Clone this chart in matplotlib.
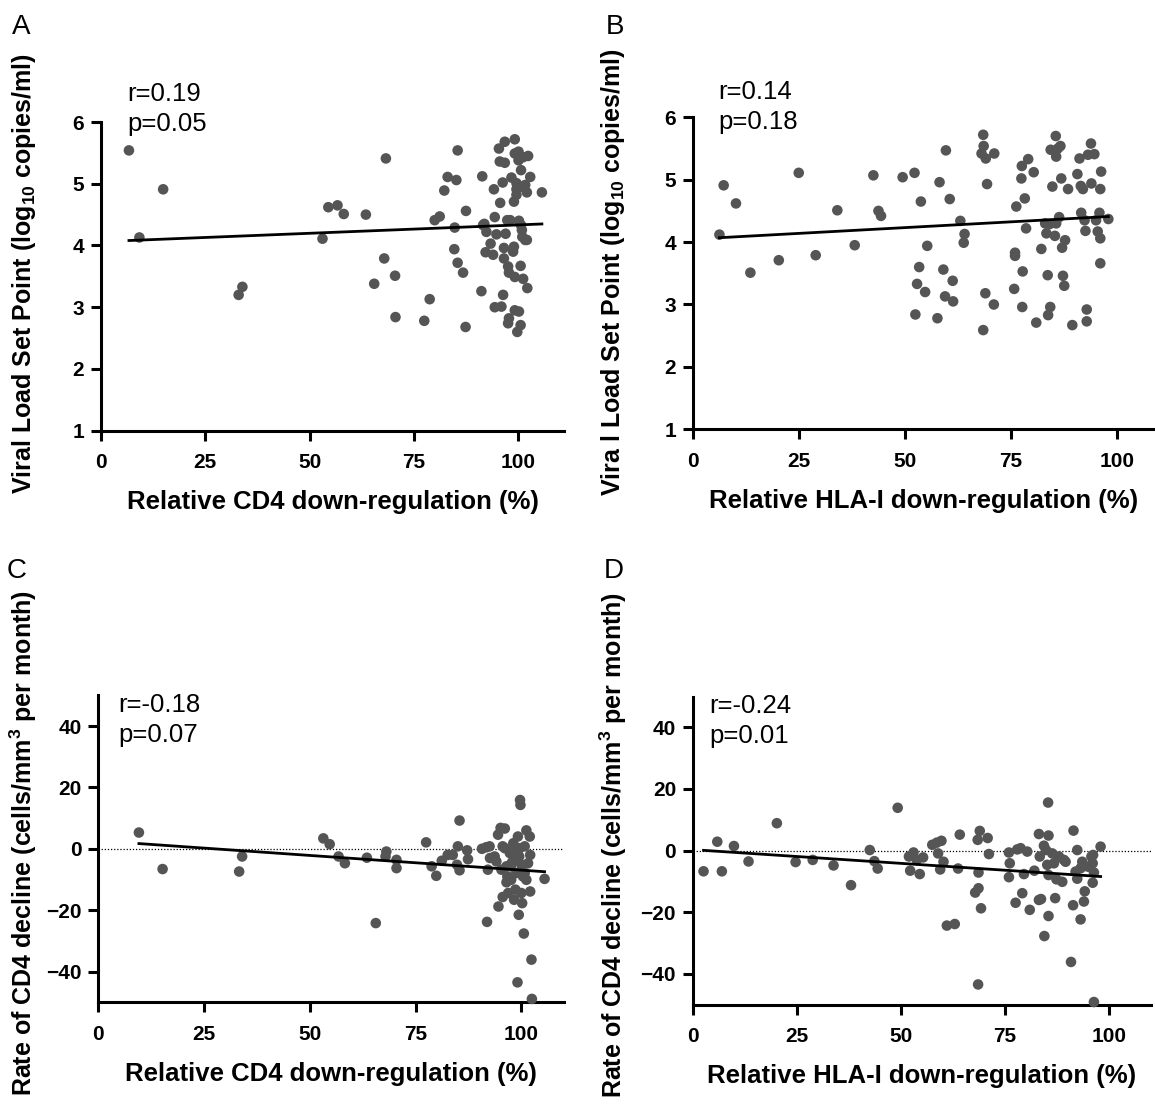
import numpy as np
import matplotlib
matplotlib.use('Agg')
import matplotlib.pyplot as plt

plt.rcParams['font.family'] = ['Liberation Sans', 'DejaVu Sans']
plt.rcParams['mathtext.fontset'] = 'custom'
plt.rcParams['mathtext.rm'] = 'Liberation Sans:bold'
plt.rcParams['mathtext.default'] = 'rm'

# A: CD4 down-regulation vs viral load set point
cd4_vl_x = [6.7, 9.2, 14.9, 33.0, 33.9, 53.1, 54.5, 56.7, 58.2, 63.5, 68.3, 67.9, 65.5, 70.5, 70.6,
            77.5, 78.8, 80.0, 81.2, 82.3, 83.1, 85.2, 85.5, 84.8, 84.7, 85.5, 86.8, 87.5, 87.4, 91.4,
            91.2, 91.6, 92.4, 92.2, 93.4, 94.0, 94.2, 94.4, 94.4, 95.4, 95.7, 95.6, 96.3, 96.4, 96.0,
            96.8, 96.8, 96.6, 97.0, 94.8, 96.6, 97.6, 97.8, 97.8, 97.6, 98.1, 98.4, 99.2, 99.0, 99.0,
            99.2, 99.2, 99.8, 99.2, 100.1, 100.1, 100.7, 99.6, 99.6, 100.9, 101.7, 100.2, 100.7, 101.0,
            101.7, 100.6, 100.2, 100.6, 101.2, 102.2, 102.1, 102.9, 102.4, 101.2, 105.7, 100.9, 97.4,
            91.9, 98.8, 99.6, 102.1]
cd4_vl_y = [5.54, 4.13, 4.91, 3.20, 3.33, 4.11, 4.62, 4.65, 4.51, 4.50, 5.41, 3.79, 3.38, 3.51, 2.84,
            2.78, 3.13, 4.41, 4.47, 4.89, 5.11, 5.06, 5.54, 4.29, 3.94, 3.72, 3.56, 4.56, 2.68, 5.12,
            3.26, 4.33, 4.22, 3.89, 4.03, 3.85, 4.91, 4.46, 3.00, 5.57, 4.69, 5.36, 5.02, 3.20, 3.01,
            5.68, 5.34, 3.96, 4.19, 4.18, 3.79, 3.66, 3.56, 2.82, 2.74, 4.41, 5.10, 5.72, 4.71, 3.98,
            3.49, 2.95, 2.60, 5.49, 5.52, 5.38, 5.22, 4.91, 5.01, 4.95, 4.98, 4.40, 4.33, 4.14,
            4.09, 3.67, 2.93, 2.71, 3.46, 3.31, 4.86, 5.11, 5.45, 5.43, 4.86, 4.25, 4.41,
            4.35, 3.90, 4.82, 4.09]

# B: HLA-I down-regulation vs viral load set point
hla_vl_x = [6.3, 7.3, 10.2, 13.6, 20.3, 25.0, 29.0, 34.1, 38.2, 42.6, 43.8, 44.4, 49.5, 52.3, 52.5,
            52.9, 53.4, 53.8, 54.8, 55.3, 57.7, 58.2, 59.1, 59.5, 59.7, 60.6, 61.3, 61.4, 63.1, 64.1,
            63.9, 68.5, 68.6, 68.1, 69.1, 71.1, 69.4, 69.0, 71.0, 68.5, 75.8, 76.0, 76.0, 76.3, 77.6,
            77.5, 78.3, 78.6, 77.8, 77.7, 79.1, 80.4, 81.0, 82.2, 83.1, 83.4, 83.7, 83.8, 84.3, 84.4,
            85.6, 85.7, 86.1, 86.7, 84.8, 85.4, 85.7, 86.4, 86.9, 87.1, 87.3, 87.6, 87.8, 88.5, 89.5,
            90.7, 91.2, 91.5, 92.0, 91.6, 92.4, 92.6, 92.9, 92.9, 93.2, 93.9, 94.0, 94.7, 95.1, 95.5,
            95.9, 96.1, 96.3, 96.1, 96.1, 98.0, 84.2]
hla_vl_y = [4.12, 4.91, 4.62, 3.51, 3.71, 5.11, 3.79, 4.51, 3.95, 5.07, 4.50, 4.42, 5.04, 5.11, 2.84,
            3.33, 3.60, 4.65, 3.20, 3.94, 2.78, 4.96, 3.56, 3.13, 5.47, 4.69, 3.38, 3.05, 4.34, 4.13,
            3.99, 5.72, 5.54, 5.42, 5.34, 5.42, 4.93, 3.18, 3.00, 2.59, 3.25, 3.83, 3.78, 4.57, 5.22,
            5.02, 4.70, 4.22, 3.53, 2.96, 5.33, 5.12, 2.71, 3.89, 4.30, 4.14, 3.47, 2.83, 2.96, 5.48,
            5.70, 5.37, 5.50, 5.54, 4.89, 4.10, 4.30, 4.40, 5.02, 3.91, 3.46, 3.30, 4.03, 4.85, 2.67,
            5.09, 5.34, 4.90, 4.85, 4.47, 4.35, 4.18, 2.92, 2.73, 5.40, 5.58, 4.94, 5.41, 4.35, 4.17,
            4.47, 4.85, 5.13, 4.06, 3.66, 4.37, 4.29]

# C: CD4 down-regulation vs rate of CD4 decline
cd4_rate_x = [9.6, 15.2, 33.3, 34.0, 53.2, 54.7, 56.8, 58.3, 63.5, 65.6, 68.1, 67.9, 70.5, 70.5, 77.5,
              78.8, 79.9, 81.2, 82.6, 83.8, 85.0, 85.4, 87.2, 87.4, 84.8, 85.4, 90.7, 91.9, 92.1, 92.5,
              93.7, 94.5, 95.1, 96.1, 94.1, 94.6, 95.6, 96.1, 96.5, 96.7, 97.3, 97.5, 97.8, 98.1, 98.3,
              98.6, 98.8, 99.1, 99.2, 99.4, 99.7, 99.8, 99.5, 100.0, 100.2, 100.4, 100.6, 100.8, 101.2,
              101.2, 101.6, 102.0, 102.1, 102.1, 102.4, 102.5, 105.5, 98.4, 97.6, 100.0, 96.9, 95.6,
              98.8, 100.8, 96.5, 91.7, 92.6, 95.3, 99.6]
cd4_rate_y = [5.3, -6.6, -7.4, -2.5, 3.4, 1.5, -2.5, -4.7, -2.9, -24.2, -0.9, -2.5, -3.6, -6.3, 2.1,
              -5.7, -8.8, -3.9, -2.0, -2.0, 0.8, 9.2, -0.5, -3.4, -5.2, -7.0, 0.0, -23.8, -6.8, 0.8,
              -2.5, 4.6, 6.8, 6.6, -4.1, -18.8, -15.7, 0.2, -10.9, -9.0, -1.4, -5.7, -4.4, 1.8, -16.6,
              -13.3, -7.9, -43.5, 4.0, -21.5, 15.9, 14.3, -2.5, -5.2, -17.7, -9.0, -27.6, 0.8, 6.0,
              -10.1, -4.7, 4.0, -2.0, -13.9, -36.1, -48.9, -9.8, -0.3, -10.1, -14.4, -14.4, 0.8,
              -3.6, -7.9, -5.7, 0.5, -3.0, -6.8, 0.2]

# D: HLA-I down-regulation vs rate of CD4 decline
hla_rate_x = [2.6, 5.9, 7.0, 9.9, 13.4, 20.2, 24.7, 28.8, 33.8, 38.0, 42.5, 43.6, 44.4, 49.2, 52.2,
              51.9, 53.0, 53.8, 54.5, 55.3, 57.5, 58.6, 59.7, 58.9, 59.4, 60.2, 61.0, 62.9, 63.7, 64.1,
              67.8, 68.6, 68.5, 68.4, 68.9, 68.6, 69.2, 70.8, 71.1, 75.9, 75.9, 76.1, 77.5, 77.9, 78.7,
              79.1, 79.5, 80.3, 80.9, 82.0, 83.1, 83.6, 83.1, 84.4, 84.3, 84.8, 85.1, 85.3, 85.4, 85.4,
              85.4, 86.3, 86.7, 87.0, 87.3, 87.9, 88.7, 89.5, 90.8, 91.3, 91.4, 91.9, 92.3, 92.3, 93.1,
              93.5, 93.9, 94.1, 94.9, 95.7, 96.0, 96.0, 96.1, 96.3, 96.3, 97.9, 83.3, 89.1, 93.1]
hla_rate_y = [-6.7, 2.9, -6.7, 1.5, -3.5, 8.9, -3.7, -3.0, -4.8, -11.2, 0.2, -3.4, -5.8, 13.9, -6.5,
              -1.9, -0.6, -3.0, -7.6, -2.2, 1.9, 2.6, 3.2, -0.9, -6.1, -3.6, -24.3, -23.8, -5.8, 5.2,
              -13.6, -12.2, -43.4, 3.5, 6.4, -7.1, -18.7, 4.1, -1.1, -8.6, -0.6, -4.1, -16.9, 0.4, 0.8,
              -13.8, -7.6, -0.3, -19.2, -6.5, -16.0, -15.7, 5.4, -27.7, 1.6, 0.2, -4.6, 15.6, 4.9, -21.2,
              -7.9, -0.9, -4.1, -15.4, -9.3, -1.9, -10.1, -3.6, -36.1, -17.7, 6.5, -6.8, 0.2, -9.1, -22.3,
              -3.6, -16.5, -13.2, -5.2, -1.9, -4.1, -10.4, -1.4, -49.1, -7.1, 1.3, -1.9, -3.0, -5.7]

# linear fits (intercept, slope) and the reported statistics
fits = [(4.062, 0.00271), (4.047, 0.0037), (2.62, -0.0956), (0.33, -0.0891)]
r_labels = ['r=0.19', 'r=0.14', 'r=-0.18', 'r=-0.24']
p_labels = ['p=0.05', 'p=0.18', 'p=0.07', 'p=0.01']
letters = ['A', 'B', 'C', 'D']
xlabels = ['Relative CD4 down-regulation (%)', 'Relative HLA-I down-regulation (%)',
           'Relative CD4 down-regulation (%)', 'Relative HLA-I down-regulation (%)']
ylabels = ['Viral Load Set Point (log$_{10}$ copies/ml)',
           'Vira l Load Set Point (log$_{10}$ copies/ml)',
           'Rate of CD4 decline (cells/mm$^{3}$ per month)',
           'Rate of CD4 decline (cells/mm$^{3}$ per month)']
xticks = [0, 25, 50, 75, 100]
vl_ticks = [1, 2, 3, 4, 5, 6]
rate_ticks = [-40, -20, 0, 20, 40]

W, H = 1155, 1106
fig = plt.figure(figsize=(W / 100, H / 100), dpi=100)


def px_axes(left, top, right, bottom):
    return fig.add_axes([left / W, 1 - bottom / H, (right - left) / W, (bottom - top) / H])


# pixel boxes of each panel, x limits
boxes = [(101, 122, 564, 430.7), (692.7, 117.3, 1155, 429.3),
         (98.3, 695.3, 563.6, 1002.3), (692.7, 696.5, 1151, 1004.8)]
xmax = [111, 109, 110, 110]
data = [(cd4_vl_x, cd4_vl_y), (hla_vl_x, hla_vl_y), (cd4_rate_x, cd4_rate_y), (hla_rate_x, hla_rate_y)]
# text anchors in pixels: annotation left, r baseline, p baseline, letter left, letter baseline,
# ylabel x, ylabel centre y
anchors = [(127, 101, 131, 12, 34, 24, 274), (718, 99, 129, 606, 34, 613, 272),
           (118, 712, 742, 7, 578, 23, 843), (709, 713, 743, 604, 578, 613, 845)]

for i in range(4):
    l, t, r, b = boxes[i]
    ax = px_axes(l, t, r, b)
    x, y = data[i]
    ax.scatter(x, y, s=58, color='#555555', edgecolors='none', zorder=3, clip_on=False)
    b0, b1 = fits[i]
    xx = np.array([min(x), max(x)])
    ax.plot(xx, b0 + b1 * xx, color='black', lw=2, zorder=4)

    ax.set_xlim(0, xmax[i])
    ax.set_xticks(xticks)
    if i < 2:
        ax.set_ylim(1, 6)
        ax.set_yticks(vl_ticks)
    else:
        ax.set_ylim(-50, 50)
        ax.set_yticks(rate_ticks)
        ax.axhline(0, color='black', lw=0.9, ls=(0, (1, 1.5)), zorder=1)

    for side in ['top', 'right']:
        ax.spines[side].set_visible(False)
    for side in ['left', 'bottom']:
        ax.spines[side].set_linewidth(2.2)
    ax.tick_params(direction='out', length=7, width=2.2, labelsize=15)
    ax.tick_params(axis='x', pad=9)
    ax.tick_params(axis='y', pad=5)
    for lab in ax.get_xticklabels() + ax.get_yticklabels():
        lab.set_fontweight('bold')

    ax.set_xlabel(xlabels[i], fontsize=18.5, fontweight='bold', labelpad=13)

    ax_l, r_base, p_base, let_l, let_base, ylab_x, ylab_y = anchors[i]
    fig.text(ylab_x / W, 1 - ylab_y / H, ylabels[i], rotation=90, ha='center', va='center',
             fontsize=18, fontweight='bold')
    fig.text(ax_l / W, 1 - r_base / H, r_labels[i], fontsize=18.5, va='baseline')
    fig.text(ax_l / W, 1 - p_base / H, p_labels[i], fontsize=18.5, va='baseline')
    fig.text(let_l / W, 1 - let_base / H, letters[i], fontsize=20, va='baseline')

fig.savefig('out.png', dpi=100)
